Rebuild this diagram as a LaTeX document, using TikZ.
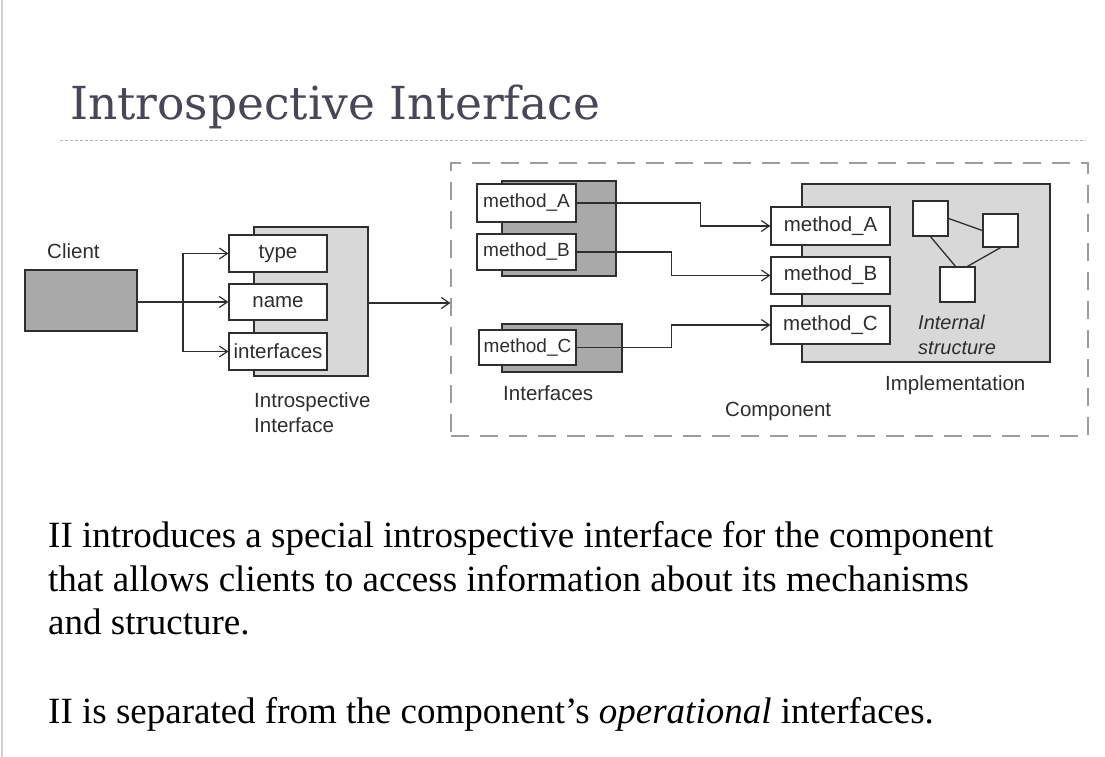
\documentclass[tikz,border=0pt]{standalone}
\usepackage{fontspec}
\setmainfont{Liberation Serif}
\setsansfont{Liberation Sans}
\newfontfamily\headfont{DejaVu Serif}
\usetikzlibrary{arrows.meta,calc}

\definecolor{ink}{HTML}{2E2E2E}
\definecolor{darkfill}{HTML}{A9A9A9}
\definecolor{lightfill}{HTML}{D8D8D8}
\definecolor{dashgrey}{HTML}{9C9C9C}
\definecolor{headcol}{HTML}{474757}
\definecolor{rulecol}{HTML}{A9B5C6}
\definecolor{edgecol}{HTML}{CFCFCF}

\begin{document}
\begin{tikzpicture}[x=1pt,y=-1pt,
  lbl/.style={font=\sffamily\fontsize{20.5}{24}\selectfont, text=ink, inner sep=0pt},
  shell/.style={draw=ink, line width=1.3pt, inner sep=0pt},
  opbox/.style={draw=ink, line width=1.3pt, fill=white, inner sep=0pt,
    font=\sffamily\fontsize{20.5}{24}\selectfont, text=ink},
  smallop/.style={opbox, font=\sffamily\fontsize{19}{22}\selectfont},
  wire/.style={draw=ink, line width=1.3pt},
  arr/.style={wire, -{Straight Barb[length=8pt,width=11pt,line width=1.2pt]}},
  bodytext/.style={font=\fontsize{37}{44}\selectfont, text=black, inner sep=0pt, anchor=base west}
]
% page
\fill[white] (0,0) rectangle (1105,757);
\useasboundingbox (0,0) rectangle (1105,757);
\draw[edgecol, line width=2pt] (2,0) -- (2,757);

% heading
\node[font=\headfont\fontsize{45.5}{50}\selectfont, text=headcol, inner sep=0pt, anchor=base west]
  (title) at (70,120) {Introspective Interface};
\draw[rulecol, line width=1pt, dash pattern=on 3pt off 2pt] (60,140) -- (1086,140);

% client and introspective interface
\node[lbl, anchor=base west] (clientlbl) at (47,258) {Client};
\node[shell, fill=darkfill, minimum width=112, minimum height=61] (client) at (81,300.5) {};
\node[shell, fill=lightfill, minimum width=114, minimum height=149] (ii) at (311,301.5) {};
\node[opbox, minimum width=98, minimum height=37] (type) at (278,253.5) {type};
\node[opbox, minimum width=98, minimum height=36] (name) at (278,302) {name};
\node[opbox, minimum width=98, minimum height=37] (ifaces) at (278,351.5) {interfaces};
\node[lbl, anchor=base west] (iilbl1) at (254,407) {Introspective};
\node[lbl, anchor=base west] (iilbl2) at (254,432) {Interface};

% component frame
\node[draw=dashgrey, line width=1.2pt, dash pattern=on 18pt off 11pt, inner sep=0pt,
  minimum width=637, minimum height=273] (comp) at (769.5,299.5) {};
\node[lbl, anchor=base west] (complbl) at (725,416) {Component};

% operational interfaces
\node[shell, fill=darkfill, minimum width=114, minimum height=95] (grpab) at (559,228.5) {};
\node[shell, fill=darkfill, minimum width=120, minimum height=48] (grpc) at (562,348) {};
\node[smallop, minimum width=99, minimum height=38] (ma) at (526.5,203) {method\_A};
\node[smallop, minimum width=99, minimum height=36] (mb) at (526.5,252) {method\_B};
\node[smallop, minimum width=97, minimum height=35] (mc) at (527.5,347.5) {method\_C};
\node[lbl, anchor=base west] (ifacelbl) at (503,400) {Interfaces};

% implementation
\node[shell, fill=lightfill, minimum width=248, minimum height=178] (impl) at (926,273) {};
\node[opbox, minimum width=119, minimum height=38] (ia) at (830.5,226) {method\_A};
\node[opbox, minimum width=119, minimum height=37] (ib) at (830.5,275.5) {method\_B};
\node[opbox, minimum width=119, minimum height=38] (ic) at (830.5,325) {method\_C};
\node[shell, fill=white, minimum width=35, minimum height=35] (sq1) at (930.5,218.5) {};
\node[shell, fill=white, minimum width=35, minimum height=33] (sq2) at (1000.5,230.5) {};
\node[shell, fill=white, minimum width=35, minimum height=35] (sq3) at (957.5,284.5) {};
\draw[wire] (sq1.east) -- (sq2.west);
\draw[wire] (sq1.south) -- ([xshift=-2pt]sq3.north);
\draw[wire] (sq2.south) -- ([xshift=10pt]sq3.north);
\node[lbl, font=\sffamily\itshape\fontsize{20}{24}\selectfont, anchor=base west] (int1) at (918,329) {Internal};
\node[lbl, font=\sffamily\itshape\fontsize{20}{24}\selectfont, anchor=base west] (int2) at (918,354) {structure};
\node[lbl, anchor=base west] (impllbl) at (885,390) {Implementation};

% connectors
\coordinate (split) at (183,302);
\draw[arr] (client.east |- name.west) -- (name.west);
\draw[arr] (split) |- (type.west);
\draw[arr] (split) |- (ifaces.west);
\draw[arr] (ii.east |- 0,303) -- (comp.west |- 0,303);
\draw[arr] (ma.east) -- ++(124,0) |- (ia.west);
\draw[arr] (mb.east) -- ++(95,0) |- (ib.west);
\draw[arr] (mc.east) -- ++(95,0) |- (ic.west);

% text
\node[bodytext] (p1a) at (48,547) {II introduces a special introspective interface for the component};
\node[bodytext] (p1b) at (48,591) {that allows clients to access information about its mechanisms};
\node[bodytext] (p1c) at (48,634) {and structure.};
\node[bodytext] (p2) at (48,723) {II is separated from the component’s \textit{operational} interfaces.};
\end{tikzpicture}
\end{document}
